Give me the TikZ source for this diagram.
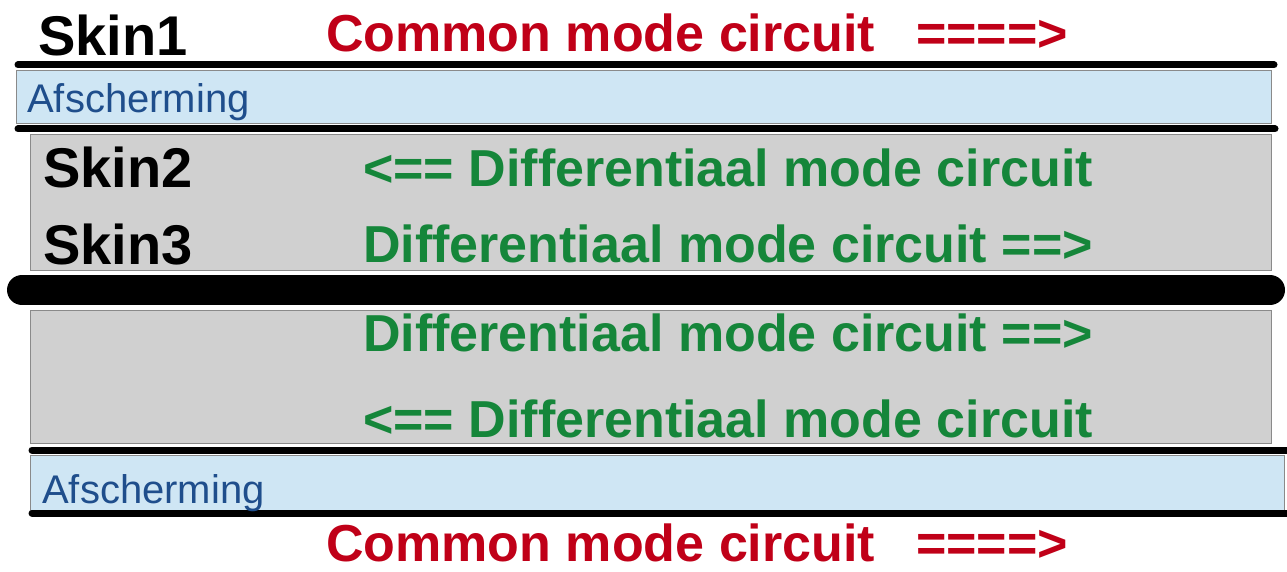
\documentclass[tikz,border=0pt]{standalone}
\usepackage{fontspec}
\setmainfont{Liberation Sans}
\definecolor{cmred}{HTML}{C00018}
\definecolor{dmgreen}{HTML}{15863A}
\definecolor{shieldtxt}{HTML}{1F4E8C}
\definecolor{shieldfill}{HTML}{CFE6F4}
\definecolor{corefill}{HTML}{D0D0D0}
\definecolor{edge}{HTML}{8A8A8A}
\begin{document}
\begin{tikzpicture}[x=1pt,y=-1pt,
  lbl/.style={anchor=base west,inner sep=0pt},
  skintext/.style={lbl,font=\fontsize{56}{60}\selectfont\bfseries,text=black},
  cmtext/.style={lbl,font=\fontsize{52}{56}\selectfont\bfseries,text=cmred},
  dmtext/.style={lbl,font=\fontsize{52}{56}\selectfont\bfseries,text=dmgreen},
  shieldtext/.style={lbl,font=\fontsize{40}{44}\selectfont,text=shieldtxt},
  shieldbox/.style={fill=shieldfill,draw=edge,line width=0.8pt},
  corebox/.style={fill=corefill,draw=edge,line width=0.8pt},
  wire/.style={line width=7pt,line cap=round,black},
  mainwire/.style={line width=30pt,line cap=round,black}]
  % canvas
  \fill[white] (0,0) rectangle (1287,572);
  \useasboundingbox (0,0) rectangle (1287,572);

  % layers
  \draw[shieldbox] (16,70) rectangle (1271,123);
  \draw[corebox] (30,134) rectangle (1271,270);
  \draw[corebox] (30,310) rectangle (1271,443);
  \draw[shieldbox] (30,455) rectangle (1284,510);

  % conductors
  \coordinate (w1a) at (18,65);   \coordinate (w1b) at (1274,65);
  \coordinate (w2a) at (18,129);  \coordinate (w2b) at (1275,129);
  \coordinate (w3a) at (22,290);  \coordinate (w3b) at (1270,290);
  \coordinate (w4a) at (32,450);  \coordinate (w4b) at (1290,450);
  \coordinate (w5a) at (32,513);  \coordinate (w5b) at (1290,513);
  \draw[wire] (w1a) -- (w1b);
  \draw[wire] (w2a) -- (w2b);
  \draw[mainwire] (w3a) -- (w3b);
  \draw[wire] (w4a) -- (w4b);
  \draw[wire] (w5a) -- (w5b);

  % labels
  \node[skintext] (skin1) at (38,56) {Skin1};
  \node[cmtext] (cmtop) at (326,52) {Common mode circuit};
  \node[cmtext] (cmtoparr) at (916,52) {====>};
  \node[shieldtext] (shtop) at (27,113) {Afscherming};
  \node[skintext] (skin2) at (43,188) {Skin2};
  \node[dmtext] (dm1) at (363,186) {<== Differentiaal mode circuit};
  \node[skintext] (skin3) at (43,264) {Skin3};
  \node[dmtext] (dm2) at (363,262) {Differentiaal mode circuit ==>};
  \node[dmtext] (dm3) at (363,351) {Differentiaal mode circuit ==>};
  \node[dmtext] (dm4) at (363,437) {<== Differentiaal mode circuit};
  \node[shieldtext] (shbot) at (42,503) {Afscherming};
  \node[cmtext] (cmbot) at (326,561) {Common mode circuit};
  \node[cmtext] (cmbotarr) at (916,561) {====>};
\end{tikzpicture}
\end{document}
